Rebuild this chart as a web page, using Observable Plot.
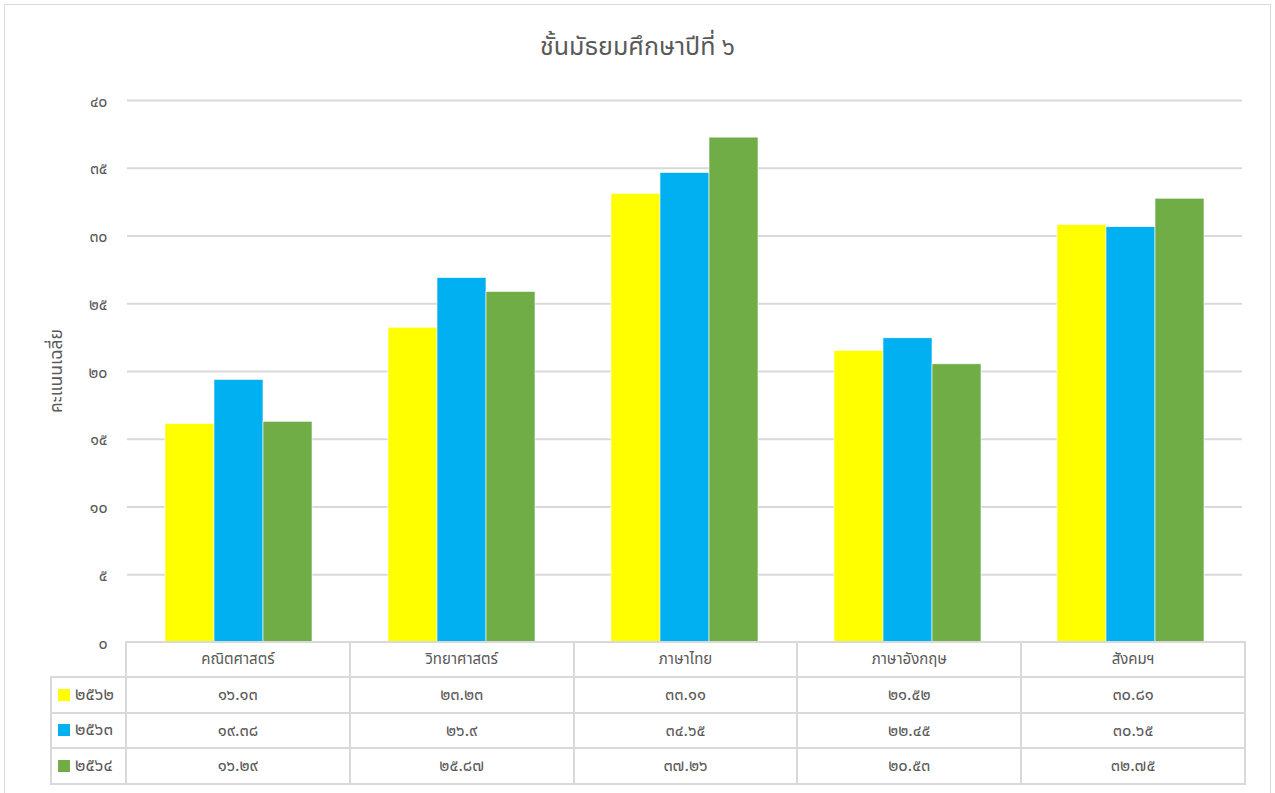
<!DOCTYPE html>
<html><head><meta charset="utf-8">
<script src="https://cdn.jsdelivr.net/npm/d3@7"></script>
<script src="https://cdn.jsdelivr.net/npm/@observablehq/plot@0.6"></script>
<style>
body{margin:0;background:#fff;overflow:hidden;}
#wrap{position:relative;width:1275px;height:793px;overflow:hidden;font-family:"Leelawadee UI","Noto Sans Thai","Noto Sans",sans-serif;color:#595959;}
#frame{position:absolute;left:4px;top:4px;width:1267px;height:800px;border:1.5px solid #d9d9d9;box-sizing:border-box;}
#title{position:absolute;left:0;width:1275px;top:28px;text-align:center;font-size:25px;}
#ylab{position:absolute;left:56px;top:371px;transform:translate(-50%,-50%) rotate(-90deg);font-size:17.5px;white-space:nowrap;}
#plot{position:absolute;left:0;top:0;}
table{position:absolute;border-collapse:collapse;table-layout:fixed;}
td,th{border:2px solid #d9d9d9;text-align:center;font-weight:normal;padding:0;color:#595959;}
th{font-size:15px;}
td{font-size:16.5px;}
td.yr{text-align:left;padding-left:6px;font-size:17px;}
.sw{display:inline-block;width:12px;height:12px;margin-right:5px;vertical-align:-1px;}
</style></head><body><div id="wrap"><div id="frame"></div></div>
<script>
const title = "ชั้นมัธยมศึกษาปีที่ ๖";
const yLabel = "คะแนนเฉลี่ย";
const subjects = ["คณิตศาสตร์","วิทยาศาสตร์","ภาษาไทย","ภาษาอังกฤษ","สังคมฯ"];
const years = [2562, 2563, 2564];
const scores2562 = [16.13, 23.23, 33.11, 21.52, 30.81];
const scores2563 = [19.38, 26.9, 34.65, 22.45, 30.65];
const scores2564 = [16.29, 25.87, 37.26, 20.53, 32.75];
const colors = ["#FFFF00", "#00B0F0", "#70AD47"];
const yTicks = [0, 5, 10, 15, 20, 25, 30, 35, 40];

const thaiDigits = "๐๑๒๓๔๕๖๗๘๙";
const thai = v => String(v).replace(/[0-9]/g, c => thaiDigits[+c]);

const series = [scores2562, scores2563, scores2564];
const data = [];
years.forEach((yr, i) => subjects.forEach((s, j) => data.push({subject: s, year: yr, score: series[i][j]})));

const wrap = document.getElementById("wrap");

const chart = Plot.plot({
  width: 1275, height: 662,
  marginLeft: 125, marginRight: 31, marginTop: 100, marginBottom: 20,
  fx: {domain: subjects, padding: 0, axis: null},
  x: {domain: years, paddingInner: 0, paddingOuter: 0.74, axis: null},
  y: {domain: [0, 40], axis: null},
  color: {domain: years, range: colors},
  style: {background: "transparent", fontFamily: '"Leelawadee UI","Noto Sans Thai","Noto Sans",sans-serif', overflow: "visible"},
  marks: [
    Plot.gridY(yTicks.filter(d => d > 0), {stroke: "#d9d9d9", strokeOpacity: 1, strokeWidth: 2}),
    Plot.barY(data, {fx: "subject", x: "year", y: "score", fill: "year", stroke: "#ffffff", strokeWidth: 0.6}),
    Plot.axisY(yTicks, {tickSize: 0, tickPadding: 20, tickFormat: thai, fontSize: 16, color: "#595959", label: null, dy: 1})
  ]
});
const holder = document.createElement("div");
holder.id = "plot";
holder.appendChild(chart);
wrap.appendChild(holder);

const t = document.createElement("div"); t.id = "title"; t.textContent = title; wrap.appendChild(t);
const yl = document.createElement("div"); yl.id = "ylab"; yl.textContent = yLabel; wrap.appendChild(yl);

// data table aligned to the fx scale
const fxs = chart.scale("fx");
const band = d3.scaleBand().domain(fxs.domain).range(fxs.range).paddingInner(0).paddingOuter(0);
const bw = band.bandwidth();
const y0 = chart.scale("y").apply(0);
const firstW = band(subjects[0]) - 50;
const table = document.createElement("table");
table.style.left = "50px";
table.style.top = (y0 - 1) + "px";
table.style.width = (firstW + bw * subjects.length) + "px";
const cg = document.createElement("colgroup");
[firstW, ...subjects.map(() => bw)].forEach(w => { const c = document.createElement("col"); c.style.width = w + "px"; cg.appendChild(c); });
table.appendChild(cg);
const hr = document.createElement("tr"); hr.style.height = "35px";
const th0 = document.createElement("th"); th0.style.borderTop = "none"; th0.style.borderLeft = "none"; hr.appendChild(th0);
subjects.forEach(s => { const th = document.createElement("th"); th.textContent = s; hr.appendChild(th); });
table.appendChild(hr);
years.forEach((yr, i) => {
  const tr = document.createElement("tr"); tr.style.height = "35.5px";
  const td0 = document.createElement("td"); td0.className = "yr";
  const sw = document.createElement("span"); sw.className = "sw"; sw.style.background = colors[i];
  td0.appendChild(sw); td0.appendChild(document.createTextNode(thai(yr)));
  tr.appendChild(td0);
  series[i].forEach(v => { const td = document.createElement("td"); td.textContent = thai(v); tr.appendChild(td); });
  table.appendChild(tr);
});
wrap.appendChild(table);
</script></body></html>
